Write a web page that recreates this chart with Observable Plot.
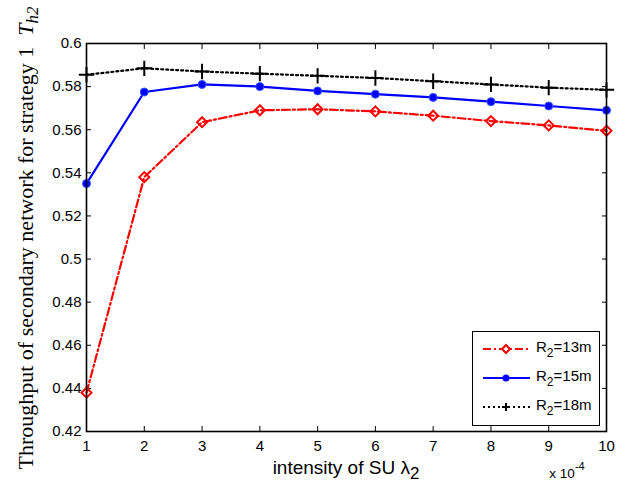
<!DOCTYPE html>
<html><head><meta charset="utf-8">
<script src="https://cdn.jsdelivr.net/npm/d3@7"></script>
<script src="https://cdn.jsdelivr.net/npm/@observablehq/plot@0.6"></script>
<style>
body{margin:0;background:#fff;}
#chart{position:relative;width:625px;height:488px;}
#legend{position:absolute;left:472px;top:331px;width:128px;height:95px;border:1.3px solid #000;background:#fff;box-sizing:border-box;font-family:"Liberation Sans",Arial,sans-serif;font-size:15px;}
#legend .row{position:absolute;left:9px;height:20px;display:flex;align-items:center;}
#legend svg{margin-right:5px;}
</style></head><body>
<div id="chart"></div>
<script>
const xs = [1,2,3,4,5,6,7,8,9,10];
const r13 = [0.438,0.538,0.5635,0.569,0.5695,0.5685,0.5665,0.564,0.562,0.5595];
const r15 = [0.535,0.5775,0.581,0.580,0.578,0.5765,0.575,0.573,0.571,0.569];
const r18 = [0.5855,0.5885,0.587,0.586,0.585,0.584,0.5825,0.581,0.5795,0.5785];
const seriesNames = ["R2=13m","R2=15m","R2=18m"];
const xTicks = [1,2,3,4,5,6,7,8,9,10];
const yTicks = [0.42,0.44,0.46,0.48,0.5,0.52,0.54,0.56,0.58,0.6];
const yTickLabels = ["0.42","0.44","0.46","0.48","0.5","0.52","0.54","0.56","0.58","0.6"];

const d13 = xs.map((x,i)=>({x,y:r13[i]}));
const d15 = xs.map((x,i)=>({x,y:r15[i]}));
const d18 = xs.map((x,i)=>({x,y:r18[i]}));

const plot = Plot.plot({
  width:625, height:488,
  marginLeft:86, marginRight:19, marginTop:43, marginBottom:57,
  style:{fontFamily:"'Liberation Sans', Arial, sans-serif", fontSize:"15px", color:"#000", background:"#fff"},
  x:{domain:[1,10], ticks:xTicks},
  y:{domain:[0.42,0.6], ticks:yTicks},
  marks:[
    Plot.axisX({anchor:"bottom", ticks:xTicks, tickSize:0, tickPadding:9, label:null, tickFormat:d=>String(d), fontSize:15}),
    Plot.axisY({anchor:"left", ticks:yTicks, tickSize:0, tickPadding:5, label:null, tickFormat:(d)=>yTickLabels[yTicks.indexOf(d)], fontSize:15}),
    Plot.axisX({anchor:"bottom", ticks:xTicks, tickSize:-5, text:null, label:null}),
    Plot.axisX({anchor:"top", ticks:xTicks, tickSize:-5, text:null, label:null}),
    Plot.axisY({anchor:"left", ticks:yTicks, tickSize:-5, text:null, label:null}),
    Plot.axisY({anchor:"right", ticks:yTicks, tickSize:-5, text:null, label:null}),
    Plot.line(d18,{x:"x",y:"y",stroke:"#000",strokeWidth:2.2,strokeDasharray:"2,3"}),
    Plot.dot(d18,{x:"x",y:"y",symbol:"plus",r:5,stroke:"#000",strokeWidth:2}),
    Plot.line(d15,{x:"x",y:"y",stroke:"#0000ff",strokeWidth:2.2}),
    Plot.dot(d15,{x:"x",y:"y",symbol:"circle",r:4,fill:"#0000ff",stroke:"#3355ff",strokeWidth:1}),
    Plot.line(d13,{x:"x",y:"y",stroke:"#ff0000",strokeWidth:2.2,strokeDasharray:"8,3,2,3"}),
    Plot.dot(d13,{x:"x",y:"y",symbol:"diamond2",r:4.5,fill:"none",stroke:"#ff0000",strokeWidth:2}),
    Plot.frame({stroke:"#000",strokeWidth:1.6})
  ]
});
document.getElementById("chart").appendChild(plot);

const svg = d3.select(plot);
// x label
const xl = svg.append("text").attr("x",346).attr("y",474).attr("text-anchor","middle")
  .attr("font-family","'Liberation Sans', Arial, sans-serif").attr("font-size",19).attr("fill","#000");
xl.append("tspan").text("intensity of SU ");
xl.append("tspan").text("λ");
xl.append("tspan").attr("dy",5).attr("font-size",17).text("2");
// exponent
const ex = svg.append("text").attr("x",567).attr("y",478)
  .attr("font-family","'Liberation Sans', Arial, sans-serif").attr("font-size",13.5).attr("fill","#000");
ex.append("tspan").text("x 10");
ex.append("tspan").attr("dy",-8).attr("font-size",11).text("-4");
// y label
const yl = svg.append("text").attr("transform","translate(33,238) rotate(-90)").attr("text-anchor","middle")
  .attr("font-family","'Liberation Serif', 'Times New Roman', serif").attr("font-size",22).attr("fill","#000");
yl.append("tspan").text("Throughput of secondary network for strategy 1  ");
yl.append("tspan").attr("font-style","italic").text("T");
yl.append("tspan").attr("font-style","italic").attr("dy",5).attr("font-size",17).text("h2");

// legend
const leg = document.createElement("div");
leg.id = "legend";
const styles = [
  {stroke:"#ff0000",dash:"8,3,2,3",sym:'<path d="M24,6 L28,10 L24,14 L20,10 Z" fill="#fff" stroke="#ff0000" stroke-width="2"/>'},
  {stroke:"#0000ff",dash:"",sym:'<circle cx="24" cy="10" r="3.5" fill="#0000ff"/>'},
  {stroke:"#000",dash:"2,3",sym:'<path d="M24,6 V14 M20,10 H28" stroke="#000" stroke-width="2"/>'}
];
seriesNames.forEach((name,i)=>{
  const row = document.createElement("div");
  row.className="row";
  row.style.top = (7+i*29)+"px";
  const s = styles[i];
  row.innerHTML = `<svg width="49" height="20"><line x1="1" y1="10" x2="48" y2="10" stroke="${s.stroke}" stroke-width="2.2" ${s.dash?`stroke-dasharray="${s.dash}"`:""}/>${s.sym}</svg>`;
  const lab = document.createElement("span");
  lab.innerHTML = name.replace("R2","R<sub style='font-size:12px;vertical-align:-5px;'>2</sub>");
  row.appendChild(lab);
  leg.appendChild(row);
});
document.getElementById("chart").appendChild(leg);
</script>
</body></html>
